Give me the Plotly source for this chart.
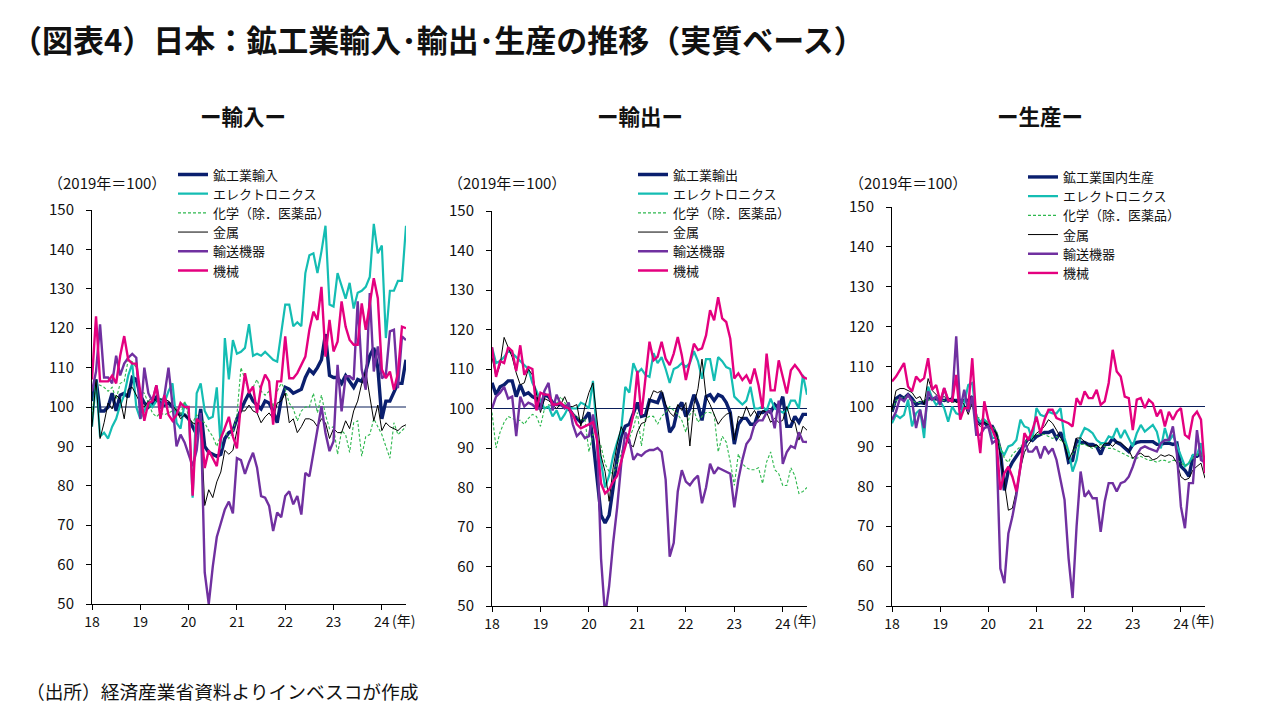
import plotly.graph_objects as go

# ---------------- data (monthly index, Jan-2018 = 0) ----------------
months = list(range(79))
year_ticks = [0, 12, 24, 36, 48, 60, 72]
year_labels = ["18", "19", "20", "21", "22", "23", "24"]
y_ticks = [50, 60, 70, 80, 90, 100, 110, 120, 130, 140, 150]

imp_names = ["鉱工業輸入", "エレクトロニクス", "化学（除．医薬品）", "金属", "輸送機器", "機械"]
exp_names = ["鉱工業輸出", "エレクトロニクス", "化学（除．医薬品）", "金属", "輸送機器", "機械"]
prod_names = ["鉱工業国内生産", "エレクトロニクス", "化学（除．医薬品）", "金属", "輸送機器", "機械"]

imp_total = [101.5, 107, 99, 99, 100, 103.5, 99, 103, 103.5, 102.5,
             107.5, 107, 103, 101, 100, 101, 102.5, 101, 100.5, 101,
             100, 99, 98, 98, 97, 95, 93, 99.5, 90, 88.5,
             88, 87.5, 88, 92, 93.5, 94, 97, 99.5, 101.5, 103.5,
             101.5, 100.5, 99.5, 101.5, 101, 99, 96, 102, 105, 104.5,
             103.5, 104, 104.5, 107.5, 109.5, 108.5, 110, 112, 118.5, 108,
             107.5, 107.5, 106, 108, 106.5, 105, 107, 106.5, 109, 113,
             115, 110, 97, 101.5, 101.5, 104, 106, 106, 112]
imp_elec = [95, 107, 92.5, 93.5, 92, 95, 97, 100.5, 103, 108,
            111, 100, 97, 99, 101.5, 100, 101.5, 102, 101, 104,
            106, 96, 94.5, 101, 99.5, 77, 103.5, 106, 99, 97,
            97.5, 105, 89.5, 117.5, 107, 117, 113.5, 114, 115, 121,
            113, 113.5, 113, 114, 113, 112, 111.5, 119, 126, 126,
            120.5, 121.5, 120.5, 134, 138.5, 139, 134, 139.5, 146, 126,
            125.5, 134, 130.5, 127.5, 131.5, 125, 129, 129.5, 130.5, 133,
            146.5, 139, 141, 117.5, 129.5, 129.5, 132, 132, 146]
imp_chem = [98, 106, 105.5, 105, 104, 105, 102, 106, 106.5, 112,
            111.5, 110, 104, 103.5, 101, 98.5, 97.5, 98.5, 98, 98.5,
            99, 99.5, 98, 101.5, 97.5, 96, 98, 97, 96, 94,
            92.5, 90, 93, 94, 92, 93.5, 98, 110, 107, 104,
            105, 107, 104, 103, 104, 100, 104, 106, 104.5, 101,
            99.5, 96.5, 99, 100, 100, 103.5, 98.5, 103, 98, 94.5,
            95, 88, 94, 93, 88.5, 96, 96.5, 87.5, 92.5, 93,
            97, 95, 93, 90, 87, 96, 93, 94, 95]
imp_metal = [95, 107, 92, 96, 101, 99.5, 103, 102, 97, 104.5,
             105, 103, 101, 100, 101.5, 102.5, 101.5, 102, 102, 101.5,
             100.5, 99, 97, 98, 97, 96, 95.5, 97, 75, 79,
             77, 81, 83.5, 89, 88, 89, 94, 99, 99, 100.5,
             99, 98.5, 96, 97.5, 98.5, 97, 101, 101.5, 103.5, 96,
             97, 93.5, 95, 97, 97, 96.5, 95, 97, 96, 92,
             94.5, 93.5, 93.5, 96.5, 94.5, 99, 101.5, 106, 109, 103,
             96.5, 100.5, 94, 96, 95, 94.5, 94, 95, 95.5]
imp_trans = [104, 109, 121, 107.5, 107.5, 106, 113, 108, 111, 112.5,
             113.5, 112.5, 97, 110, 103.5, 101.5, 105.5, 99.5, 103, 110,
             100.5, 90, 93, 91, 88, 85, 89, 98.5, 58, 50,
             59.5, 67, 70.5, 74, 76, 73, 87, 86.5, 83, 86,
             88.4, 84.6, 77.4, 77, 74.9, 68.5, 73.2, 72, 77.4, 78.6,
             75.3, 77.4, 72.7, 83.3, 82.4, 88.4, 93.8, 100.2, 93.4, 88.8,
             91.3, 110.7, 98.9, 107.8, 107.8, 106.9, 126.8, 109.5, 104.4, 128.9,
             109, 115.4, 107.3, 108.2, 119.2, 119.6, 104.8, 117.9, 117]
imp_mach = [107, 123, 106.5, 106.5, 106.5, 108, 106, 113, 118, 112,
            111, 111, 103, 96.5, 101, 101.5, 105.5, 97, 103, 98,
            96.5, 98, 101, 100, 100, 77.5, 97, 96, 84.5, 89,
            87, 85, 92, 95, 97.5, 92.5, 89.5, 101, 108.6, 103.5,
            105.2, 98.5, 105.2, 108.2, 106.5, 95.5, 106.5, 106.5, 117.9, 107.3,
            107.3, 108.6, 110.7, 112.8, 119.6, 124.2, 122.1, 130.5, 112.8, 122.1,
            114.1, 116.6, 126.8, 120.4, 117, 115.8, 115.8, 126.3, 119.6, 126.3,
            132.7, 127.6, 109.5, 107.3, 109, 104.4, 108.6, 120.4, 120]

exp_total = [106.5, 103.5, 105.5, 106, 107, 107, 103, 106, 103.5, 104,
             103, 102.5, 100, 103.5, 103, 101.5, 101, 101, 100.5, 100,
             98.5, 97.5, 96.5, 97.5, 99, 92, 82, 73, 71, 73,
             80, 87.5, 93, 95.5, 96, 98.5, 101.5, 98, 98.3, 102.1,
             101.7, 101.5, 104, 100, 94, 95.5, 100, 101.5, 98, 100,
             103.5, 101, 97, 103, 103.5, 102, 103.5, 103, 101.5, 99,
             91, 96, 97.5, 97.5, 96, 96, 99, 99, 99.5, 99,
             101, 100, 103, 95.5, 95.5, 98, 96.5, 98.5, 98.5]
exp_elec = [115.5, 111.5, 112, 113, 114.5, 114, 113, 112, 111, 110,
            106.5, 104.5, 102, 100, 100.5, 98, 99.5, 97, 98.5, 100.5,
            100, 100, 101.5, 101, 100, 107, 93, 86, 80, 83,
            88, 91.5, 94.5, 105.5, 104, 111.5, 109, 110, 108.5, 108,
            114, 111.5, 113, 110, 106.5, 110, 110.5, 111.5, 110.5, 111.5,
            114.5, 112, 107.5, 112.5, 112.5, 107, 113, 112, 110.5, 110,
            103, 102, 101, 102, 105.5, 100, 100, 100.5, 99.5, 102.5,
            100, 99.5, 99, 99.5, 102, 102, 100, 108.5, 103.5]
exp_chem = [99, 90, 94, 96.5, 98, 97.5, 97, 97, 96, 97.5,
            98.5, 98, 95.5, 100, 101, 100.5, 101, 103, 101.5, 100,
            98.5, 98, 97, 97.5, 89, 93.5, 92.5, 90.5, 86, 84,
            83.5, 86, 88.5, 92.5, 92.5, 95, 99, 90.5, 97.5, 98,
            98, 96, 98, 99, 100.5, 99.5, 98.5, 97, 94, 98.5,
            99.5, 96.5, 98, 99, 99, 98.5, 89, 93, 91.5, 86.5,
            80.5, 88.5, 86, 85, 84.5, 84.5, 85, 81, 86.5, 89,
            84.5, 83.5, 80.5, 80.5, 85, 83, 78.5, 79, 80]
exp_metal = [113, 108, 111, 118, 115.5, 113, 109, 106, 106.5, 110,
             108.5, 104, 99, 102.5, 102, 101, 100, 101, 103, 100.5,
             100.5, 101, 95.5, 100.5, 104, 106.5, 97, 88, 84, 76.5,
             85, 91, 95.4, 93, 91, 90.3, 94, 96.2, 96.6, 102,
             104.5, 104, 104.5, 101, 99, 98, 101, 99.5, 101.5, 90.5,
             101, 105, 112.5, 103, 101, 98.5, 96, 97.5, 98.5, 99,
             92, 98, 97.5, 100.5, 98, 99.5, 97.5, 99.5, 99, 96.5,
             97.5, 96.5, 97, 100.5, 97, 96.5, 92, 95.5, 94.5]
exp_trans = [100, 103, 104, 105.5, 102.5, 103, 93, 103, 100.5, 101.5,
             101, 100, 100, 104.5, 106.5, 99.5, 103.5, 101, 100, 101.5,
             96, 93, 94, 92.5, 93, 98.5, 93, 62, 47.5, 55,
             66, 75, 86, 94, 92, 87, 88.5, 88, 89, 89.5,
             89.5, 90, 89, 82, 62.5, 66, 79, 84.4, 81.5, 80.6,
             82, 83, 76, 80, 86, 83.5, 85, 84.5, 84, 83.5,
             75, 82, 87, 91, 92.4, 96, 97, 97, 99, 99.5,
             95, 102, 86, 89, 90.5, 90, 94, 91.6, 91.5]
exp_mach = [115.5, 108, 112, 111.5, 115.5, 114.5, 109.5, 116, 108.5, 110.5,
            110, 99.5, 104, 103.5, 103.5, 101, 101, 101.5, 100.5, 100,
            98.5, 96, 95, 95.4, 96, 96.5, 92, 81, 78.5, 79.5,
            81.5, 83, 86.5, 90, 94, 98.5, 109.5, 98.3, 107, 116.9,
            112.2, 113.1, 116.9, 112.6, 111, 113.9, 118.1, 113.5, 107.2, 111.8,
            116.4, 114.8, 115.2, 118.5, 124.9, 122.3, 128.2, 122.8, 121.9, 117.7,
            107.6, 108.9, 107.2, 108.4, 106.3, 110.1, 105.9, 100, 113.9, 104.6,
            104.6, 112.2, 107.6, 103.8, 109.7, 111, 109.7, 108, 107.5]

prod_total = [98.7, 102, 102.7, 102, 103, 102, 100.5, 101, 100.8, 102,
              102, 102, 101.8, 101.5, 101.8, 101.5, 101.5, 101.5, 101.5, 101.5,
              102.5, 97, 95.8, 96, 95, 95, 93, 89, 79, 84,
              86, 87.5, 89, 90.5, 92, 91.5, 92.5, 93, 93.5, 93.5,
              94, 92, 93.5, 91, 86, 86.5, 91.5, 91, 91, 90.5,
              90.5, 90, 88, 90.5, 90.5, 92, 91, 90.5, 89.5, 88.7,
              90.5, 91, 91.2, 91.2, 91.2, 91.2, 90.5, 90.5, 90.8, 90.8,
              90.5, 90.8, 85, 84, 82.5, 87.5, 87.5, 88.3, 86.5]
prod_elec = [95.8, 97.9, 97.1, 97.9, 101.7, 95, 98.3, 99.2, 92.1, 105,
             102.1, 100.4, 101.3, 99.6, 96.2, 100, 98.3, 97.9, 100.8, 105.4,
             105.9, 97.5, 96.2, 96.7, 95.8, 92.1, 92.1, 89.1, 87.9, 90,
             90.4, 91.6, 96.7, 95, 94.6, 91.6, 99.6, 97.9, 97.5, 98.7,
             98.3, 98.3, 99.6, 92.1, 88.7, 83.7, 86.6, 92.5, 94.6, 94.1,
             93.3, 91.6, 90.8, 90.8, 92.5, 92.1, 94.6, 92.1, 94.1, 92.1,
             90, 93.3, 95.4, 93.7, 94.6, 95.4, 93.7, 89.5, 94.6, 91.2,
             92.9, 90.4, 87.9, 85, 85.8, 87.9, 87.9, 90.8, 83.7]
prod_chem = [99, 101.5, 102, 102.5, 102, 101.5, 101, 101, 101.5, 101.5,
             102, 101.5, 101.5, 101.5, 101, 101, 101, 101, 101.5, 100.5,
             100, 97.5, 97, 96.5, 96, 95, 94, 90, 87, 86,
             88, 89, 90, 91, 92, 92.5, 93, 93, 93, 92.5,
             92, 92.5, 91.5, 91, 88.5, 88, 90, 90.5, 90.5, 90,
             89.5, 90, 90.5, 90, 89.5, 89.5, 89, 88.5, 88, 87.5,
             87, 87, 87.5, 87, 86.5, 86.5, 86, 86.5, 86.5, 86,
             86.5, 86.5, 86, 85, 86, 87, 88, 88, 86.5]
prod_metal = [99, 104, 104.5, 104.5, 104, 103.5, 102, 102.5, 100.5, 107,
              104, 103, 102, 102.5, 101.5, 102.5, 101, 101.5, 100.5, 98,
              101, 96, 95, 96, 95.5, 94, 93.5, 88, 81, 74,
              74.5, 79, 84.5, 88.5, 90.5, 92, 93.3, 94, 95, 96.7,
              95.8, 94.1, 92.1, 90.4, 86.6, 88.7, 92.1, 92.1, 91.2, 90,
              90, 90.4, 89.5, 90.8, 90.8, 90, 91.2, 91, 90, 89.1,
              87, 87.9, 88.3, 87.5, 87.5, 86.6, 87, 87.9, 87.5, 87.9,
              87.5, 85.8, 82.4, 81.6, 82, 84.1, 85, 85.8, 82]
prod_trans = [96.7, 98.7, 102.1, 101.3, 102.9, 101.3, 94.6, 99.2, 94.6, 103.8,
              101.7, 102.5, 100.4, 104.6, 101.3, 101.7, 117.6, 99.2, 104.2, 98.7,
              102.5, 92.9, 92.9, 94.6, 95, 90.8, 91.6, 59.4, 55.7, 68.2,
              72.4, 77.8, 84.9, 91.2, 88.7, 88.7, 90, 87, 90, 88.3,
              89.5, 86.6, 81.6, 76.6, 62, 52, 70, 83.7, 77.4, 78.7,
              77, 77, 68.6, 76.2, 80.8, 80.8, 78.7, 80.8, 81.2, 82.4,
              84.9, 87.9, 89.5, 90, 89.5, 89.1, 88.7, 90.8, 91.6, 91.6,
              95, 88, 74.9, 69.5, 80.8, 80.8, 94.1, 86.6, 86]
prod_mach = [106.3, 107.5, 109.2, 110.9, 105, 103.8, 107.5, 106.3, 107.1, 112.1,
             104.2, 105.4, 101.3, 104.6, 101.7, 101.3, 107.9, 96.7, 99.6, 99.6,
             112.1, 96.7, 88.3, 101.3, 96.7, 94.1, 91.6, 79.1, 83.3, 84.9,
             82.4, 78.7, 84.9, 93.3, 91.6, 94.1, 97.5, 93.3, 96.7, 99.2,
             99.2, 97.1, 96.7, 96.2, 95.8, 95, 102.1, 100.4, 103.8, 102.1,
             102.1, 104.2, 100.4, 101.3, 105.9, 114.2, 108.8, 107.5, 102.5, 102.1,
             94.1, 101.7, 102.1, 99.6, 101.7, 100.8, 97.5, 99.2, 95, 98.7,
             96.7, 98.7, 99.6, 92.9, 92.1, 97.5, 98.7, 96.7, 83.3]

# ---------------- styling / layout helpers ----------------
FONT = "Noto Sans CJK JP, Noto Sans, sans-serif"
OFF = 8                      # page body margin
W, H = 1280 - OFF, 720 - OFF  # figure size so it ends at the window edge


def fx(px):
    return (px - OFF) / W


def fy(py):
    return 1 - (py - OFF) / H


styles = [
    dict(color="#0A1F6E", width=3.4),
    dict(color="#14BDB3", width=2.2),
    dict(color="#2EB84E", width=1.1, dash="3px,2px"),
    dict(color="#000000", width=1.0),
    dict(color="#7030A0", width=2.4),
    dict(color="#E4007F", width=2.4),
]

ROW_GAP = 19.2
panels = [
    dict(names=imp_names, series=[imp_total, imp_elec, imp_chem, imp_metal, imp_trans, imp_mach],
         px=(92, 406), py=(210, 604), text_x=213, row0=174.5,
         title="ー輸入ー", tx=243, unit_x=46),
    dict(names=exp_names, series=[exp_total, exp_elec, exp_chem, exp_metal, exp_trans, exp_mach],
         px=(492, 807), py=(211, 606), text_x=673, row0=174.5,
         title="ー輸出ー", tx=640, unit_x=446),
    dict(names=prod_names, series=[prod_total, prod_elec, prod_chem, prod_metal, prod_trans, prod_mach],
         px=(892, 1205), py=(207, 606), text_x=1063, row0=177,
         title="ー生産ー", tx=1040, unit_x=847),
]

fig = go.Figure()
annotations = []
shapes = []
layout_extra = {}

n = 0
for p, pan in enumerate(panels, start=1):
    sfx = "" if p == 1 else str(p)
    for k, (name, vals, st) in enumerate(zip(pan["names"], pan["series"], styles)):
        n += 1
        leg = "legend" if n == 1 else f"legend{n}"
        fig.add_trace(go.Scatter(
            x=months, y=vals, mode="lines", name=name,
            line=st, xaxis="x" + sfx, yaxis="y" + sfx, legend=leg,
            hoverinfo="skip",
        ))
        layout_extra[leg] = dict(
            x=fx(pan["text_x"] - 40), y=fy(pan["row0"] + k * ROW_GAP),
            xanchor="left", yanchor="middle",
            bgcolor="rgba(0,0,0,0)", borderwidth=0,
            font=dict(size=13, color="#111", family=FONT), itemwidth=30,
        )
    x0, x1 = pan["px"]
    y0, y1 = pan["py"]
    layout_extra["xaxis" + sfx] = dict(
        domain=[fx(x0), fx(x1)], anchor="y" + sfx, range=[0, 78], automargin=False,
        tickvals=year_ticks, ticktext=year_labels, ticks="outside", ticklen=5,
        tickcolor="black", showline=True, linecolor="black", linewidth=1,
        showgrid=False, zeroline=False, tickfont=dict(size=14, color="#111", family=FONT),
    )
    layout_extra["yaxis" + sfx] = dict(
        domain=[fy(y1), fy(y0)], anchor="x" + sfx, range=[50, 150], automargin=False,
        tickvals=y_ticks, ticks="outside", ticklen=5, tickcolor="black",
        showline=True, linecolor="black", linewidth=1, showgrid=False, zeroline=False,
        tickfont=dict(size=15, color="#111", family=FONT), ticklabelstandoff=9,
    )
    shapes.append(dict(type="line", xref=f"x{sfx} domain", x0=0, x1=1,
                       yref="y" + sfx, y0=100, y1=100,
                       line=dict(color="#0A1F5A", width=1.2), layer="below"))
    annotations.append(dict(text=f"<b>{pan['title']}</b>", xref="paper", yref="paper",
                            x=fx(pan["tx"]), y=fy(115), showarrow=False,
                            xanchor="center", yanchor="middle",
                            font=dict(size=21.5, color="#111", family=FONT)))
    annotations.append(dict(text="（2019年＝100）", xref="paper", yref="paper",
                            x=fx(pan["unit_x"]), y=fy(182), showarrow=False,
                            xanchor="left", yanchor="middle",
                            font=dict(size=15, color="#111", family=FONT)))
    annotations.append(dict(text="(年)", xref="x" + sfx, yref="paper",
                            x=year_ticks[-1], xshift=8, y=fy(620), showarrow=False,
                            xanchor="left", yanchor="middle",
                            font=dict(size=14, color="#111", family=FONT)))

annotations.append(dict(text="<b>（図表4）日本：鉱工業輸入･輸出･生産の推移（実質ベース）</b>",
                        xref="paper", yref="paper", x=fx(9), y=fy(38),
                        showarrow=False, xanchor="left", yanchor="middle",
                        font=dict(size=31, color="#111", family=FONT)))
annotations.append(dict(text="（出所）経済産業省資料よりインベスコが作成",
                        xref="paper", yref="paper", x=fx(24), y=fy(690),
                        showarrow=False, xanchor="left", yanchor="middle",
                        font=dict(size=18.7, color="#111", family=FONT)))

fig.update_layout(
    width=W, height=H, margin=dict(l=0, r=0, t=0, b=0, autoexpand=False),
    paper_bgcolor="white", plot_bgcolor="white",
    font=dict(family=FONT, color="#111"),
    annotations=annotations, shapes=shapes, showlegend=True,
    **layout_extra,
)

fig.write_html("out.html")
